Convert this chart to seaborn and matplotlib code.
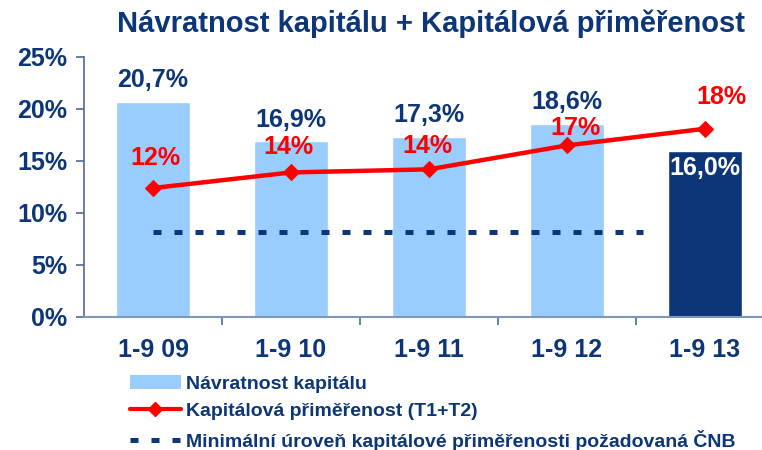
import numpy as np
import seaborn as sns
import matplotlib.pyplot as plt
from matplotlib.patches import Patch
from matplotlib.lines import Line2D

periods = ['1-9 09', '1-9 10', '1-9 11', '1-9 12', '1-9 13']
roe = [20.7, 16.9, 17.3, 18.6, 16.0]
roe_labels = ['20,7%', '16,9%', '17,3%', '18,6%', '16,0%']
car = [12.4, 13.9, 14.2, 16.5, 18.1]
car_labels = ['12%', '14%', '14%', '17%', '18%']
cnb_min = 8.2

navy = '#0C3677'
light = '#99CCFF'
red = '#FF0000'

sns.set_style('white')
plt.rcParams['font.family'] = ['Liberation Sans', 'DejaVu Sans']
plt.rcParams['font.weight'] = 'bold'

fig = plt.figure(figsize=(7.62, 4.5), dpi=100)
ax = fig.add_axes([84 / 762, 1 - 317 / 450, 1 - 84 / 762, 260 / 450])

bar_colors = [light] * 4 + [navy]
sns.barplot(x=periods, y=roe, hue=periods, palette=bar_colors, legend=False,
            width=0.53, saturation=1, ax=ax, zorder=2)

xs = np.arange(len(periods))
ax.plot([0, 3.55], [cnb_min, cnb_min], color=navy, lw=3.6,
        dashes=(1.6, 2.6), dash_capstyle='butt', zorder=3)
sns.lineplot(x=xs, y=car, color=red, lw=3.2, marker='D', markersize=8,
             markeredgecolor=red, ax=ax, zorder=4)

for i, (v, lab) in enumerate(zip(roe, roe_labels)):
    if i == len(roe) - 1:
        ax.annotate(lab, (i, v), xytext=(0, -4), textcoords='offset points',
                    ha='center', va='top', color='white', fontsize=18, fontweight='bold')
    else:
        ax.annotate(lab, (i, v), xytext=(0, 7), textcoords='offset points',
                    ha='center', va='bottom', color=navy, fontsize=18, fontweight='bold')

# red labels sit at slightly different heights above each point
car_off = [(2, 13), (-2, 9.5), (-1, 8.5), (6, 4), (12, 14)]
for i, (v, lab) in enumerate(zip(car, car_labels)):
    ax.annotate(lab, (i, v), xytext=car_off[i], textcoords='offset points',
                ha='center', va='bottom', color=red, fontsize=18, fontweight='bold', zorder=6)

ax.set_ylim(0, 25)
ax.set_xlim(-0.5, -0.5 + (762 - 84) / 138)
ax.set_yticks([0, 5, 10, 15, 20, 25])
ax.set_yticklabels([f'{t}%' for t in [0, 5, 10, 15, 20, 25]])
ax.set_xticks(xs)
ax.set_xticklabels(periods)
ax.set_xticks(np.arange(0.5, 4, 1), minor=True)
ax.tick_params(axis='y', length=6, width=1.2, color='#4A6A9A', labelsize=18,
               labelcolor=navy, pad=6, left=True)
ax.tick_params(axis='x', which='major', length=0, labelsize=18, labelcolor=navy, pad=15)
ax.tick_params(axis='x', which='minor', length=6, width=1.2, color='#4A6A9A', bottom=True)
for lab in ax.get_xticklabels() + ax.get_yticklabels():
    lab.set_fontweight('bold')
for s in ['top', 'right']:
    ax.spines[s].set_visible(False)
ax.spines['left'].set_color('#4A6A9A')
ax.spines['left'].set_linewidth(1.2)
ax.spines['bottom'].set_color('#7F96B8')
ax.spines['bottom'].set_linewidth(1.5)
ax.set_xlabel('')
ax.set_ylabel('')

fig.text(0.565, 0.948, 'Návratnost kapitálu + Kapitálová přiměřenost', ha='center', va='center',
         fontsize=21, fontweight='bold', color=navy)

handles = [
    Patch(facecolor=light, edgecolor='none'),
    Line2D([], [], color=red, lw=3, marker='D', markersize=7),
    Line2D([], [], color=navy, lw=3.6, dashes=(1.6, 2.6), dash_capstyle='butt'),
]
labels = ['Návratnost kapitálu', 'Kapitálová přiměřenost (T1+T2)',
          'Minimální úroveň kapitálové přiměřenosti požadovaná ČNB']
leg = fig.legend(handles, labels, loc='upper left', bbox_to_anchor=(130 / 762, 1 - 375 / 450),
                 frameon=False, handlelength=2.6, handletextpad=0.3, labelspacing=0.5,
                 borderaxespad=0, borderpad=0,
                 prop={'weight': 'bold', 'size': 14})
for t in leg.get_texts():
    t.set_color(navy)

fig.savefig('out.png', dpi=100)
